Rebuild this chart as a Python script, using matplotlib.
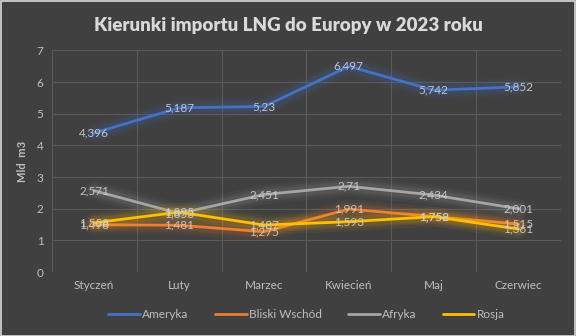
import matplotlib.pyplot as plt

months = ['Styczeń', 'Luty', 'Marzec', 'Kwiecień', 'Maj', 'Czerwiec']
ameryka = [4.396, 5.187, 5.23, 6.497, 5.742, 5.852]
bliski_wschod = [1.498, 1.481, 1.275, 1.991, 1.758, 1.515]
afryka = [2.571, 1.853, 2.451, 2.71, 2.434, 2.001]
rosja = [1.558, 1.895, 1.487, 1.593, 1.752, 1.361]

series = [
    ('Ameryka', ameryka, '#4472c4'),
    ('Bliski Wschód', bliski_wschod, '#ed7d31'),
    ('Afryka', afryka, '#a5a5a5'),
    ('Rosja', rosja, '#ffc000'),
]

bg = '#404040'
txt = '#bfbfbf'
plt.rcParams['font.family'] = ['Lato', 'DejaVu Sans']

fig = plt.figure(figsize=(5.76, 3.36), dpi=100, facecolor=bg)
fig.patches.append(plt.Rectangle((0.001, 0.001), 0.998, 0.997, transform=fig.transFigure,
                                 fill=False, edgecolor='#d9d9d9', linewidth=1.2))
ax = fig.add_axes([0.09, 0.19, 0.884, 0.66])
ax.set_facecolor(bg)

x = list(range(len(months)))
for name, vals, col in series:
    # soft glow under each line
    for w, a in [(14, 0.06), (10, 0.08), (7, 0.1)]:
        ax.plot(x, vals, color=col, linewidth=w, alpha=a, solid_capstyle='round',
                solid_joinstyle='round')
    ax.plot(x, vals, color=col, linewidth=2, label=name, solid_capstyle='round')
    for xi, v in zip(x, vals):
        ax.text(xi, v, f'{v:g}'.replace('.', ','), ha='center', va='center',
                fontsize=8.5, color='#d0d0d0', alpha=0.9)

ax.set_xlim(-0.5, 5.5)
ax.set_ylim(0, 7)
ax.set_yticks(range(8))
ax.set_xticks(x)
ax.set_xticklabels(months)
ax.set_xticks([i - 0.5 for i in range(7)], minor=True)
ax.grid(True, which='major', axis='y', color='#5a5a5a', linewidth=0.8)
ax.grid(True, which='minor', axis='x', color='#5a5a5a', linewidth=0.8)
ax.tick_params(which='both', length=0, colors=txt, labelsize=8.5, pad=6)
for s in ax.spines.values():
    s.set_visible(False)

ax.set_ylabel('Mld  m3', color=txt, fontsize=8, fontweight='bold', labelpad=6)
fig.suptitle('Kierunki importu LNG do Europy w 2023 roku', color='#d9d9d9',
             fontsize=13.5, fontweight='heavy', y=0.95)

leg = ax.legend(loc='upper center', bbox_to_anchor=(0.5, -0.12), ncol=4, frameon=False,
                fontsize=8.5, handlelength=2.7, columnspacing=2.2, handletextpad=0.2)
for t in leg.get_texts():
    t.set_color(txt)

fig.savefig('out.png', dpi=100, facecolor=bg)
